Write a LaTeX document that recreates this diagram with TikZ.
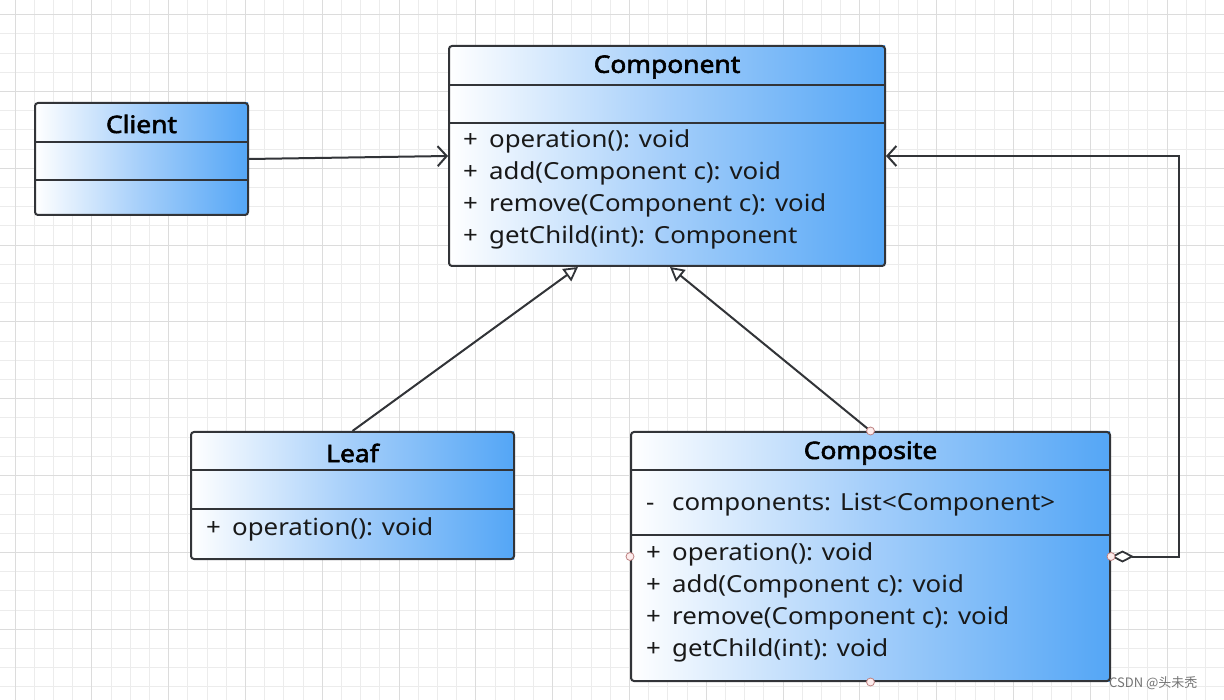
\documentclass[tikz,border=0pt]{standalone}
\usepackage{fontspec}
\setmainfont{Noto Sans}[FakeStretch=1.1]
\newfontfamily\titlefont{Noto Sans}[FakeStretch=1.1, FakeBold=2.4]
\newfontfamily\cjkfont{Noto Sans CJK SC}
\usetikzlibrary{arrows.meta}
\definecolor{cblue}{RGB}{84,166,246}
\definecolor{cmid}{RGB}{164,206,250}
\definecolor{framec}{RGB}{50,52,56}
\definecolor{gridminor}{RGB}{236,236,236}
\definecolor{gridmajor}{RGB}{220,220,220}
\definecolor{portfill}{RGB}{253,236,236}
\definecolor{portdraw}{RGB}{190,130,130}
\tikzset{
  classframe/.style={rectangle, rounded corners=3pt, draw=framec, line width=2pt, inner sep=0pt},
  compfill/.style={left color=white, right color=cblue, middle color=cmid},
  divider/.style={draw=framec, line width=2pt},
  classtitle/.style={font=\titlefont\fontsize{24}{28}\selectfont, text=black, inner sep=0pt},
  member/.style={font=\fontsize{23.5}{27}\selectfont, text=black!90, anchor=west, inner sep=0pt},
  conn/.style={draw=framec, line width=2pt},
  assoc/.style={conn, -{Straight Barb[length=9pt, width=20pt, line width=2pt]}},
  generalize/.style={conn, -{Triangle[open, length=14pt, width=15pt, fill=white, line width=1.8pt]}},
  aggreg/.style={conn, {Diamond[open, length=23pt, width=12pt, fill=white, line width=1.8pt]}-{Straight Barb[length=9pt, width=20pt, line width=2pt]}},
  port/.style={circle, fill=portfill, draw=portdraw, line width=0.8pt, minimum size=8pt, inner sep=0pt},
  watermark/.style={font=\cjkfont\fontsize{13}{15}\selectfont, text=black!55, anchor=west, inner sep=0pt}
}
\newcommand\pre[1]{\makebox[26pt][l]{#1}}
% \umlbox{name}{x1}{y1}{x2}{y2}{div1}{div2}
\newcommand\umlbox[7]{%
  \shade[compfill] (#2,#3) rectangle (#4,#6);
  \shade[compfill] (#2,#6) rectangle (#4,#7);
  \shade[compfill] (#2,#7) rectangle (#4,#5);
  \node[classframe, minimum width={(#4-#2)*1pt}, minimum height={(#5-#3)*1pt}] (#1) at ({(#2+#4)/2},{(#3+#5)/2}) {};
  \draw[divider] (#2,#6) -- (#4,#6);
  \draw[divider] (#2,#7) -- (#4,#7);
}
\begin{document}
\begin{tikzpicture}[x=1pt, y=-1pt]
\useasboundingbox (0,0) rectangle (1224,700);
\fill[white] (0,0) rectangle (1224,700);
% grid
\foreach \i in {0,...,63} {
  \pgfmathsetmacro\gx{15+19.2*\i}
  \draw[gridminor, line width=1pt] (\gx,0) -- (\gx,700);
}
\foreach \i in {0,...,36} {
  \pgfmathsetmacro\gy{14.8+19.2*\i}
  \draw[gridminor, line width=1pt] (0,\gy) -- (1224,\gy);
}
\foreach \i in {0,...,15} {
  \pgfmathsetmacro\gx{15+76.8*\i}
  \draw[gridmajor, line width=1pt] (\gx,0) -- (\gx,700);
}
\foreach \i in {0,...,9} {
  \pgfmathsetmacro\gy{14.8+76.8*\i}
  \draw[gridmajor, line width=1pt] (0,\gy) -- (1224,\gy);
}

% classes
\umlbox{client}{35}{103}{248}{215}{142}{180}
\node[classtitle] (clientT) at (141.5,124) {Client};

\umlbox{comp}{449}{46}{885}{266}{85}{123}
\node[classtitle] (compT) at (667,67) {Component};
\node[member] (compM1) at (463,141) {\pre{+}operation(): void};
\node[member] (compM2) at (463,173) {\pre{+}add(Component c): void};
\node[member] (compM3) at (463,205) {\pre{+}remove(Component c): void};
\node[member] (compM4) at (463,237) {\pre{+}getChild(int): Component};

\umlbox{leaf}{191}{432}{514}{559}{470}{509}
\node[classtitle] (leafT) at (352.5,453) {Leaf};
\node[member] (leafM1) at (206,529) {\pre{+}operation(): void};

\umlbox{composite}{631}{432}{1110}{681}{470}{535}
\node[classtitle] (compoT) at (870.5,453) {Composite};
\node[member] (compoA1) at (646,505) {\pre{-}components: List<Component>};
\node[member] (compoM1) at (646,554) {\pre{+}operation(): void};
\node[member] (compoM2) at (646,586) {\pre{+}add(Component c): void};
\node[member] (compoM3) at (646,618) {\pre{+}remove(Component c): void};
\node[member] (compoM4) at (646,650) {\pre{+}getChild(int): void};

% connectors
\draw[assoc] (client.east) -- (comp.west);
\draw[generalize] (leaf.north) -- ([xshift=-89pt]comp.south);
\draw[generalize] (composite.north) -- ([xshift=3pt]comp.south);
\coordinate (bend) at (1179,156);
\draw[aggreg] (composite.east) -| (bend) -- (comp.east);

% ports
\node[port] (p1) at (composite.north) {};
\node[port] (p2) at (composite.west) {};
\node[port] (p3) at (composite.east) {};
\node[port] (p4) at (composite.south) {};

% watermark
\node[watermark] (wm) at (1109,683) {CSDN @头未秃};
\end{tikzpicture}
\end{document}
